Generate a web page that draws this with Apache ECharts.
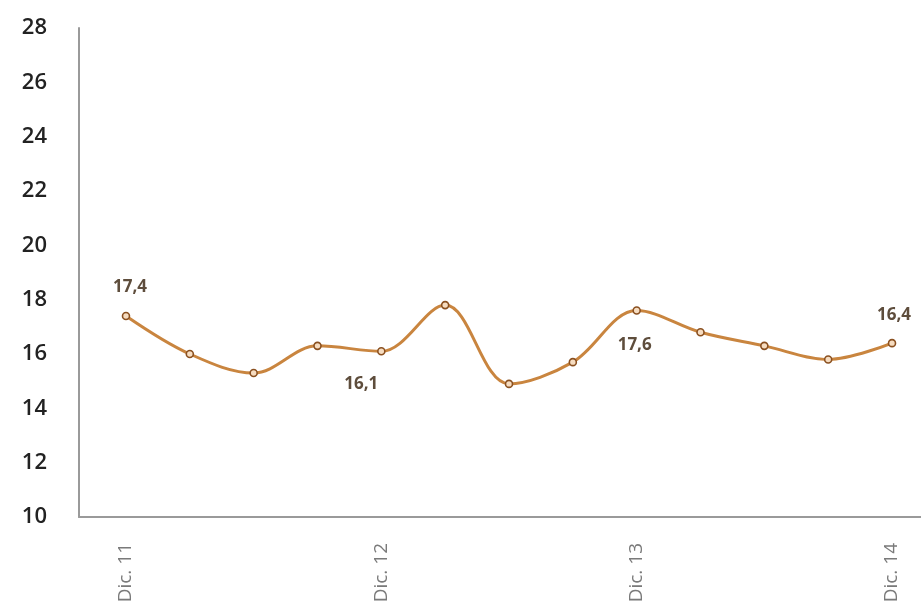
<!DOCTYPE html>
<html>
<head>
<meta charset="utf-8">
<script src="https://cdn.jsdelivr.net/npm/echarts@6/dist/echarts.min.js"></script>
<style>html,body{margin:0;padding:0;background:#fff;}#c{width:921px;height:614px;}</style>
</head>
<body>
<div id="c"></div>
<script>
const categories = ['Dic. 11','','','','Dic. 12','','','','Dic. 13','','','','Dic. 14'];
const values = [17.4, 16.0, 15.3, 16.3, 16.1, 17.8, 14.9, 15.7, 17.6, 16.8, 16.3, 15.8, 16.4];
const labelPositions = { 0: [4, -29], 4: [-20, 33], 8: [-2, 35], 12: [2, -28] };
const yTicks = [10, 28, 2];

const chart = echarts.init(document.getElementById('c'));
const data = values.map((v, i) => {
  const item = { value: [i, v] };
  if (labelPositions[i]) {
    item.label = { show: true, position: 'inside', offset: labelPositions[i],
      formatter: () => v.toFixed(1).replace('.', ',') };
  }
  return item;
});
chart.setOption({
  animation: false,
  grid: { left: 79, right: 0, top: 28, bottom: 97 },
  xAxis: {
    type: 'value', min: -0.736, max: 12.454,
    axisLine: { show: true, onZero: false, lineStyle: { color: '#9a9a9a', width: 2 } },
    axisTick: { show: false },
    splitLine: { show: false },
    axisLabel: {
      customValues: [0, 4, 8, 12],
      formatter: (v) => categories[Math.round(v)] || '',
      rotate: 90, color: '#7a7a7a', fontSize: 19, margin: 26,
      fontFamily: 'Open Sans'
    }
  },
  yAxis: {
    type: 'value', min: yTicks[0], max: yTicks[1], interval: yTicks[2],
    axisLine: { show: true, onZero: false, lineStyle: { color: '#9a9a9a', width: 2 } },
    axisTick: { show: false },
    splitLine: { show: false },
    axisLabel: { color: '#222', fontSize: 22, fontWeight: 600, margin: 32, fontFamily: 'Open Sans' }
  },
  series: [{
    type: 'line',
    smooth: 0.35,
    data: data,
    symbol: 'circle',
    symbolSize: 7,
    itemStyle: { color: '#f6dcc0', borderColor: '#8a5020', borderWidth: 1.6 },
    lineStyle: { color: '#c9853f', width: 3 },
    label: { show: false, color: '#5e4d3c', fontSize: 17, fontWeight: 'bold', fontFamily: 'Open Sans' }
  }]
});
</script>
</body>
</html>
